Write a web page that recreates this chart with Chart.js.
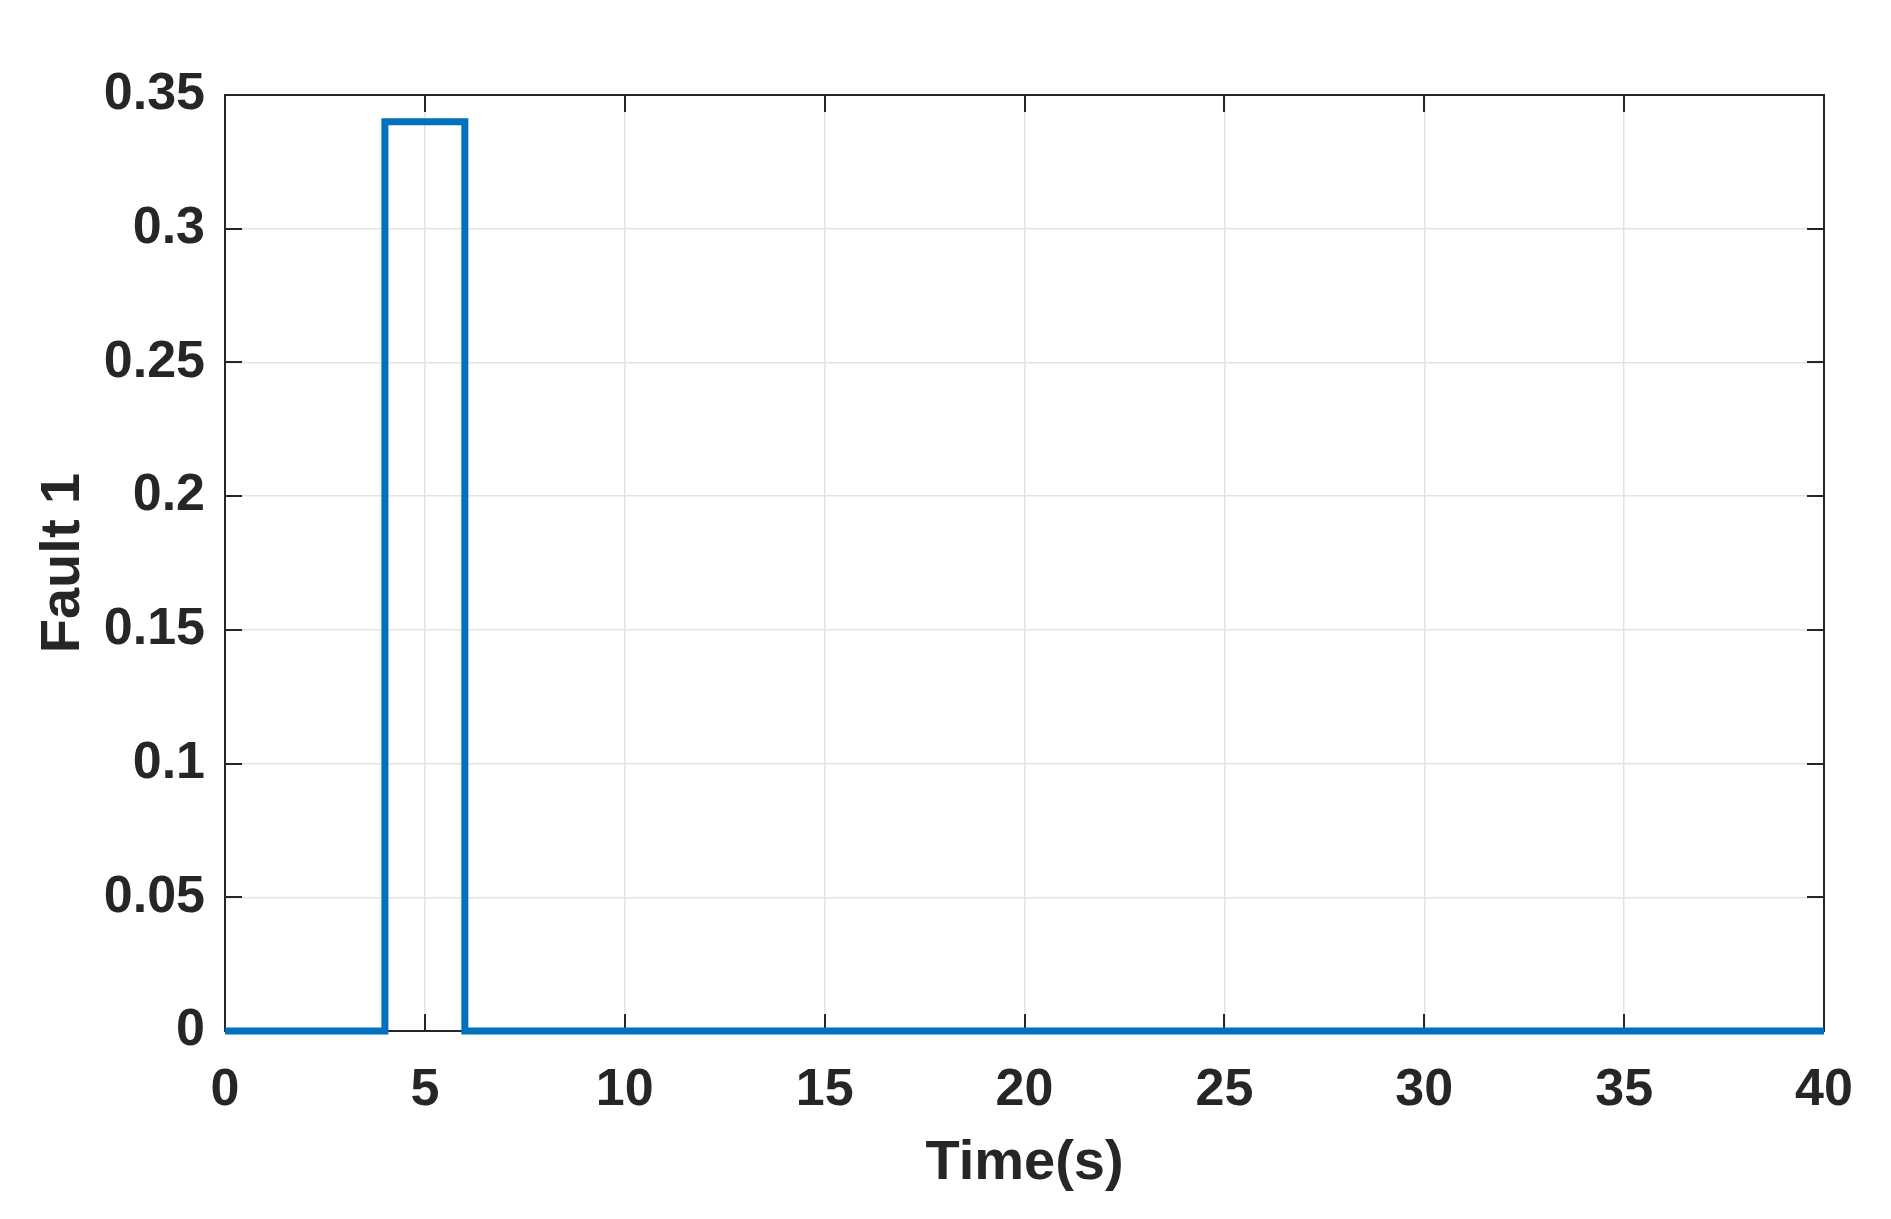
<html lang="en">
  <head>
    <meta charset="UTF-8" />
    <title>Fault 1</title>
    <style>
      html, body { margin: 0; padding: 0; background: #fff; }
      #wrap { width: 1891px; height: 1219px; }
    </style>
  </head>
  <body>
    <div id="wrap"><canvas id="myChart"></canvas></div>
  </body>
  <script src="https://cdn.jsdelivr.net/npm/chart.js@4"></script>
  <script>
    // step signal, held until the next time
    const time = [0, 4, 6, 40];
    const fault = [0, 0.34, 0, 0];

    const xTicks = [0, 5, 10, 15, 20, 25, 30, 35, 40];
    const yTicks = [0, 0.05, 0.1, 0.15, 0.2, 0.25, 0.3, 0.35];

    const axisColor = "#262626";
    const fontFamily = "'Liberation Sans', Arial, sans-serif";

    // box round the plot + inward tick marks on all four sides
    const boxPlugin = {
      id: "box",
      beforeDatasetsDraw(chart) {
        const { ctx, chartArea: a, scales } = chart;
        const len = 17;
        ctx.save();
        ctx.strokeStyle = axisColor;
        ctx.lineWidth = 2;
        ctx.beginPath();
        scales.x.ticks.forEach((t) => {
          const px = Math.round(scales.x.getPixelForValue(t.value));
          ctx.moveTo(px, a.bottom);
          ctx.lineTo(px, a.bottom - len);
          ctx.moveTo(px, a.top);
          ctx.lineTo(px, a.top + len);
        });
        scales.y.ticks.forEach((t) => {
          const py = Math.round(scales.y.getPixelForValue(t.value));
          ctx.moveTo(a.left, py);
          ctx.lineTo(a.left + len, py);
          ctx.moveTo(a.right, py);
          ctx.lineTo(a.right - len, py);
        });
        ctx.stroke();
        ctx.strokeRect(a.left, a.top, a.right - a.left, a.bottom - a.top);
        ctx.restore();
      },
    };

    Chart.defaults.font.family = fontFamily;
    Chart.defaults.color = axisColor;

    const ctx = document.getElementById("myChart").getContext("2d");
    const myChart = new Chart(ctx, {
      type: "line",
      data: {
        datasets: [
          {
            data: time.map((t, i) => ({ x: t, y: fault[i] })),
            stepped: "before",
            borderColor: "#0072BD",
            borderWidth: 7,
            borderJoinStyle: "miter",
            borderCapStyle: "butt",
            pointRadius: 0,
            fill: false,
            clip: 8,
          },
        ],
      },
      options: {
        responsive: true,
        maintainAspectRatio: false,
        animation: false,
        layout: { padding: { top: 95, right: 67, left: 0, bottom: 0 } },
        plugins: { legend: { display: false }, tooltip: { enabled: false } },
        scales: {
          x: {
            type: "linear",
            min: 0,
            max: 40,
            afterBuildTicks: (s) => { s.ticks = xTicks.map((v) => ({ value: v })); },
            afterFit: (s) => { s.height = 188; },
            grid: { color: "#e3e3e3", lineWidth: 1.5, drawTicks: false },
            border: { display: false },
            ticks: {
              padding: 28,
              font: { size: 52, weight: "bold" },
              maxRotation: 0,
              callback: (v) => String(v),
            },
            title: {
              display: true,
              text: "Time(s)",
              font: { size: 56, weight: "bold" },
              padding: { top: 0, bottom: 22 },
            },
          },
          y: {
            min: 0,
            max: 0.35,
            afterBuildTicks: (s) => { s.ticks = yTicks.map((v) => ({ value: v })); },
            afterFit: (s) => { s.width = 225; },
            grid: { color: "#e3e3e3", lineWidth: 1.5, drawTicks: false },
            border: { display: false },
            ticks: {
              padding: 20,
              font: { size: 52, weight: "bold" },
              callback: (v) => String(Number(v.toFixed(2))),
            },
            title: {
              display: true,
              text: "Fault 1",
              font: { size: 56, weight: "bold" },
              padding: { top: 30, bottom: 0 },
            },
          },
        },
      },
      plugins: [boxPlugin],
    });
  </script>
</html>
